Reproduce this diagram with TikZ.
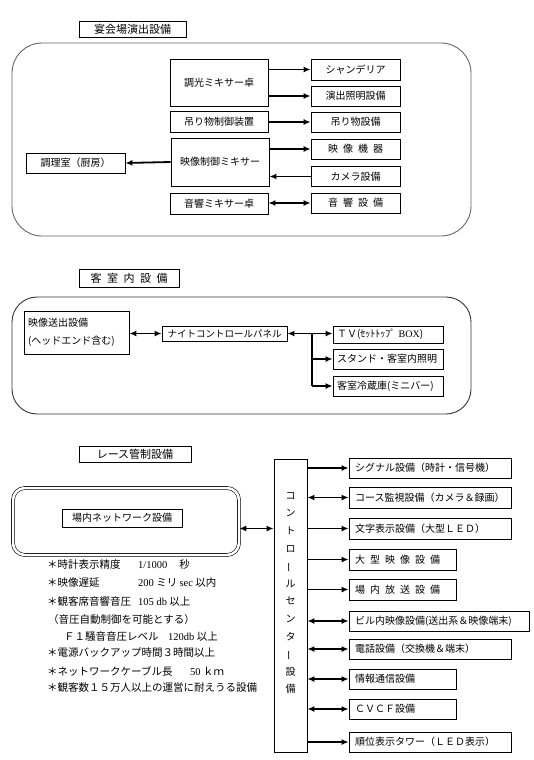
\documentclass[tikz,border=0pt]{standalone}
\usepackage{fontspec}
\setmainfont{Noto Sans CJK JP}
\newfontfamily\latn{Liberation Serif}
\usepackage{graphicx}
\usetikzlibrary{arrows.meta,positioning}
\newcommand{\kuu}{\hspace{0.5em}}
\newcommand{\tatebo}{\rotatebox[origin=c]{90}{ー}}

\begin{document}
\begin{tikzpicture}[
    x=1pt, y=-1pt,
    >={Latex[length=7pt,width=6pt]},
    box/.style={draw, line width=0.8pt, inner sep=0pt, minimum height=20, font=\fontsize{10}{12}\selectfont},
    lbox/.style={box, inner xsep=6pt, text width=#1, align=left},
    heading/.style={box, font=\fontsize{11}{13}\selectfont, minimum height=16},
    area/.style={draw, line width=0.9pt, inner sep=0pt},
    arr/.style={->, line width=1.8pt},
    dbl/.style={<->, line width=1.8pt},
    note/.style={anchor=west, inner sep=0pt, font=\fontsize{10.5}{12}\selectfont}
]
    \useasboundingbox (0,0) rectangle (534,760);

    % === 宴会場演出設備 ===
    \node[heading, minimum width=107] (hall) at (132.5,29) {宴会場演出設備};
    \node[area, draw=black!60, rounded corners=30, minimum width=459, minimum height=193] (hallarea) at (241.5,139.5) {};
    \node[box, minimum width=98, minimum height=47] (dimmer) at (219,82.5) {調光ミキサー卓};
    \node[box, minimum width=89, minimum height=21] (chand) at (355.5,69.5) {シャンデリア};
    \node[box, minimum width=89] (stage) at (355.5,96) {演出照明設備};
    \node[box, minimum width=98, minimum height=21] (hoistctl) at (219,121.5) {吊り物制御装置};
    \node[box, minimum width=89] (hoist) at (355.5,122) {吊り物設備};
    \node[box, minimum width=98, minimum height=48] (video) at (220,162) {映像制御ミキサー};
    \node[box, minimum width=89] (videquip) at (355.5,149) {映\kuu 像\kuu 機\kuu 器};
    \node[box, minimum width=89] (camera) at (355.5,176.5) {カメラ設備};
    \node[box, minimum width=99] (kitchen) at (75.5,163) {調理室（厨房）};
    \node[box, minimum width=98, minimum height=21] (audio) at (219,203.5) {音響ミキサー卓};
    \node[box, minimum width=89] (sound) at (355.5,203) {音\kuu 響\kuu 設\kuu 備};

    \draw[arr] (dimmer.east |- chand) -- (chand.west);
    \draw[arr] (dimmer.east |- stage) -- (stage.west);
    \draw[arr] (hoistctl.east |- hoist) -- (hoist.west);
    \draw[arr] (video.east |- videquip) -- (videquip.west);
    \draw[arr] (camera.west) -- (video.east |- camera);
    \draw[arr] (video.west) -- (kitchen.east);
    \draw[dbl] (audio.east |- sound) -- (sound.west);

    % === 客室内設備 ===
    \node[heading, minimum width=100, minimum height=18] (room) at (129,278) {客\kuu 室\kuu 内\kuu 設\kuu 備};
    \node[area, draw=black!80, rounded corners=25, minimum width=459, minimum height=117] (roomarea) at (241.5,355.5) {};
    \node[lbox=97, inner xsep=4pt, minimum height=43, font=\fontsize{10}{18}\selectfont] (headend) at (76.5,332.5) {映像送出設備\\(ヘッドエンド含む)};
    \node[box, minimum width=125, minimum height=15, font=\fontsize{9.5}{11}\selectfont] (panel) at (224.5,333.5) {ナイトコントロールパネル};
    \node[lbox=102, inner xsep=4pt, minimum height=17] (tv) at (388,334.5) {ＴＶ(ｾｯﾄﾄｯﾌﾟ {\latn BOX})};
    \node[lbox=102, inner xsep=4pt] (lamp) at (388,359) {スタンド・客室内照明};
    \node[lbox=102, inner xsep=4pt] (fridge) at (388,386) {客室冷蔵庫(ミニバー)};
    \coordinate (branch) at (312,333.5);

    \draw[dbl] (headend.east |- panel) -- (panel.west);
    \draw[dbl] (panel.east) -- (tv.west |- panel);
    \draw[line width=2.2pt] (branch) -- (branch |- fridge);
    \draw[arr] (branch |- lamp) -- (lamp.west);
    \draw[arr] (branch |- fridge) -- (fridge.west);

    % === レース管制設備 ===
    \node[heading, minimum width=112] (race) at (135,454) {レース管制設備};
    \node[area, double, double distance=2.5pt, line width=0.6pt, rounded corners=12, minimum width=226, minimum height=67] (netarea) at (126,521.5) {};
    \node[box, minimum width=120, minimum height=18] (net) at (122,518) {場内ネットワーク設備};
    \node[box, minimum width=33, minimum height=293] (ctrl) at (290.5,605.5) {};
    \node[inner sep=0pt, align=center, font=\fontsize{10}{17.6}\selectfont] (ctrltext) at (290.5,593)
        {コ\\ン\\ト\\ロ\\\tatebo\\ル\\セ\\ン\\タ\\\tatebo\\設\\備};

    \node[lbox=150] (sig) at (430,468) {シグナル設備（時計・信号機）};
    \node[lbox=150, minimum height=21] (course) at (430,497.5) {コース監視設備（カメラ＆録画）};
    \node[lbox=150, minimum height=21] (led) at (430,528.5) {文字表示設備（大型ＬＥＤ）};
    \node[lbox=95, minimum height=21] (bigvid) at (402.5,559.5) {大\kuu 型\kuu 映\kuu 像\kuu 設\kuu 備};
    \node[lbox=95, minimum height=21] (pa) at (402.5,589.5) {場\kuu 内\kuu 放\kuu 送\kuu 設\kuu 備};
    \node[lbox=168] (bldg) at (439,621) {ビル内映像設備(送出系＆映像端末)};
    \node[lbox=150] (tel) at (430,649) {電話設備（交換機＆端末）};
    \node[lbox=95] (info) at (402.5,679) {情報通信設備};
    \node[lbox=95] (cvcf) at (402.5,709) {ＣＶＣＦ設備};
    \node[lbox=150] (rank) at (430,742) {順位表示タワー（ＬＥＤ表示）};

    \draw[dbl] (netarea.east |- led) -- (ctrl.west |- led);
    \draw[arr] (ctrl.east |- sig) -- (sig.west);
    \draw[dbl] (ctrl.east |- course) -- (course.west);
    \draw[arr] (ctrl.east |- led) -- (led.west);
    \draw[arr] (ctrl.east |- bigvid) -- (bigvid.west);
    \draw[arr] (ctrl.east |- pa) -- (pa.west);
    \draw[dbl] (ctrl.east |- bldg) -- (bldg.west);
    \draw[dbl] (ctrl.east |- tel) -- (tel.west);
    \draw[dbl] (ctrl.east |- info) -- (info.west);
    \draw[dbl] (ctrl.east |- cvcf) -- (cvcf.west);
    \draw[arr] (ctrl.east |- rank) -- (rank.west);

    % Notes
    \node[note] (n1) at (47,565) {＊時計表示精度};
    \node[note] (v1) at (138,565) {{\latn 1/1000}\hspace{12pt}秒};
    \node[note] (n2) at (47,583) {＊映像遅延};
    \node[note] (v2) at (138,583) {{\latn 200} ミリ {\latn sec} 以内};
    \node[note] (n3) at (47,602) {＊観客席音響音圧};
    \node[note] (v3) at (138,602) {{\latn 105 db} 以上};
    \node[note] (n4) at (48,620) {（音圧自動制御を可能とする）};
    \node[note] (n5) at (64,637) {Ｆ１騒音音圧レベル};
    \node[note] (v5) at (168,637) {{\latn 120db} 以上};
    \node[note] (n6) at (47,653) {＊電源バックアップ時間３時間以上};
    \node[note] (n7) at (47,671) {＊ネットワークケーブル長};
    \node[note] (v7) at (190,671) {{\latn 50} ｋｍ};
    \node[note] (n8) at (47,688) {＊観客数１５万人以上の運営に耐えうる設備};

\end{tikzpicture}
\end{document}
